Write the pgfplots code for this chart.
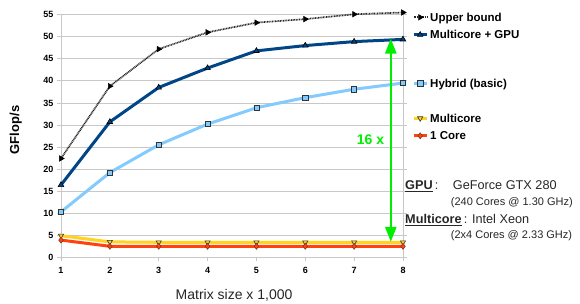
\documentclass[border=0pt]{standalone}
\usepackage{pgfplots}
\pgfplotsset{compat=1.18}
\usepackage{fontspec}
\setmainfont{Liberation Sans}
\usetikzlibrary{arrows.meta}
\definecolor{cgpu}{HTML}{004586}
\definecolor{chyb}{HTML}{83CAFF}
\definecolor{cmc}{HTML}{FFD320}
\definecolor{cone}{HTML}{FF420E}
\definecolor{cgrid}{HTML}{C8C8C8}
\definecolor{carrow}{HTML}{00EE00}
\definecolor{cedge}{HTML}{333333}
% strut: height 12.5pt above baseline, depth d below
\newcommand{\lstrut}[1]{\rule[-#1]{0pt}{\dimexpr12.5pt+#1\relax}}
\begin{document}
\begin{tikzpicture}[x=1pt,y=1pt]
\useasboundingbox (-61,-46.7) rectangle (519,257.3);
\begin{axis}[
  at={(0,0)}, anchor=south west,
  scale only axis, width=342pt, height=242.6pt,
  xmin=1, xmax=8, ymin=0, ymax=55,
  xtick={1,...,8}, ytick={0,5,...,55},
  ymajorgrids, grid style={cgrid, line width=0.8pt},
  axis line style={cgrid, line width=0.8pt},
  tick style={cgrid, line width=0.8pt},
  tick align=outside, major tick length=4pt,
  xtick pos=left,
  clip=false,
  /pgf/number format/assume math mode=true,
  ticklabel style={font=\bfseries\fontsize{9}{10}\selectfont},
  xticklabel style={yshift=-2pt},
  ylabel={GFlop/s},
  ylabel style={at={(axis description cs:-0.132,0.525)}, anchor=center, font=\bfseries\fontsize{13}{14}\selectfont},
  xlabel={Matrix size x 1,000},
  xlabel style={at={(axis description cs:0.506,-0.176)}, anchor=base, font=\fontsize{14}{15}\selectfont, text=black!85},
  legend style={at={(rel axis cs:1,1)}, anchor=north west, xshift=9pt, yshift=6.1pt,
    draw=none, fill=none, inner sep=0pt, row sep=0pt, column sep=2pt,
    font=\bfseries\fontsize{11.5}{12}\selectfont,
    nodes={inner sep=0pt, text height=, text depth=, anchor=base west}},
  legend cell align=left,
  legend image code/.code={\draw[mark repeat=2,mark phase=2,#1] plot coordinates {(0pt,4pt) (6.5pt,4pt) (13pt,4pt)};},
]
\addplot[black!85, line width=1.7pt, dash pattern=on 0.9pt off 0.7pt, mark=triangle*, mark size=3.2pt,
  mark options={solid, rotate=-90, fill=black, draw=black, line width=0.5pt}]
  coordinates {(1,22.4)(2,38.8)(3,47.2)(4,51.0)(5,53.2)(6,54.0)(7,55.1)(8,55.5)};
\addlegendentry{\lstrut{5pt}Upper bound}
\addplot[cgpu, line width=3pt, mark=triangle*, mark size=3.2pt,
  mark options={fill=cgpu, draw=black, line width=0.6pt}]
  coordinates {(1,16.4)(2,30.7)(3,38.5)(4,42.9)(5,46.8)(6,48.0)(7,48.9)(8,49.4)};
\addlegendentry{\lstrut{36pt}Multicore + GPU}
\addplot[chyb, line width=3pt, mark=square*, mark size=2.6pt,
  mark options={fill=chyb, draw=cedge, line width=0.6pt}]
  coordinates {(1,10.3)(2,19.2)(3,25.5)(4,30.2)(5,33.9)(6,36.2)(7,38.1)(8,39.5)};
\addlegendentry{\lstrut{22.5pt}Hybrid (basic)}
\addplot[cmc, line width=3pt, mark=triangle*, mark size=3pt,
  mark options={rotate=180, fill=cmc, draw=cedge, line width=0.6pt}]
  coordinates {(1,4.9)(2,3.5)(3,3.4)(4,3.4)(5,3.4)(6,3.4)(7,3.4)(8,3.4)};
\addlegendentry{\lstrut{5pt}Multicore}
\addplot[cone, line width=3pt, mark=diamond*, mark size=3pt,
  mark options={fill=cone, draw=cedge!60!cone, line width=0.6pt}]
  coordinates {(1,3.9)(2,2.5)(3,2.5)(4,2.5)(5,2.5)(6,2.5)(7,2.5)(8,2.5)};
\addlegendentry{\lstrut{5pt}1 Core}
\draw[carrow, line width=2.4pt, {Triangle[width=11pt,length=15pt]}-{Triangle[width=11pt,length=15pt]}]
  (axis cs:7.75,49.6) -- (axis cs:7.75,3.5);
\node[text=carrow, font=\bfseries\fontsize{14}{15}\selectfont] at (axis cs:7.335,26.6) {16 x};
\end{axis}
\begin{scope}[every node/.style={inner sep=0pt, text=black!85}]
\node[anchor=base west, font=\fontsize{12.7}{14}\selectfont] at (344,68) {\underline{\textbf{GPU}}\,:};
\node[anchor=base west, font=\fontsize{12.7}{14}\selectfont] at (391.7,68) {GeForce GTX 280};
\node[anchor=base west, font=\fontsize{11}{12}\selectfont] at (389.7,51.3) {(240 Cores @ 1.30 GHz)};
\node[anchor=base west, font=\fontsize{12.7}{14}\selectfont] at (344,34) {\underline{\textbf{Multicore}}\,: Intel Xeon};
\node[anchor=base west, font=\fontsize{11}{12}\selectfont] at (389.7,19) {(2x4 Cores @ 2.33 GHz)};
\end{scope}
\end{tikzpicture}
\end{document}
